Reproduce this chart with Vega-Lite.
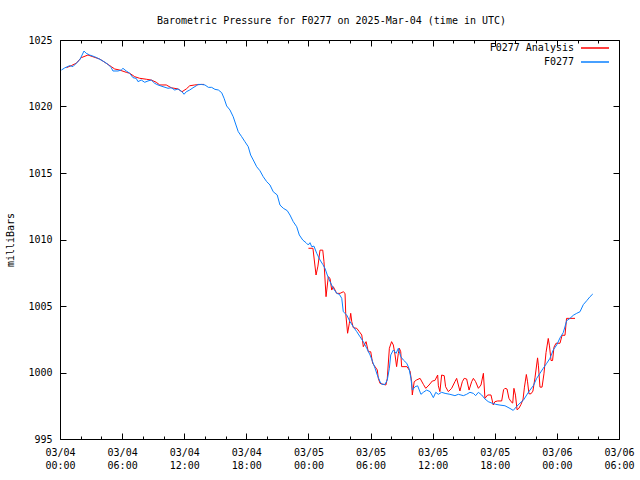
{
 "$schema": "https://vega.github.io/schema/vega-lite/v6.json",
 "width": 559, "height": 399,
 "autosize": "none",
 "padding": {"left": 60, "top": 40, "right": 21, "bottom": 41},
 "background": "white",
 "title": {"text": "Barometric Pressure for F0277 on 2025-Mar-04 (time in UTC)", "font": "DejaVu Sans Mono", "fontSize": 10, "fontWeight": "normal", "anchor": "middle", "dx": -8, "offset": 9, "color": "black"},
 "config": {
  "view": {"stroke": "black", "strokeWidth": 1},
  "axis": {"labelFont": "DejaVu Sans Mono", "labelFontSize": 10, "labelColor": "black", "titleFont": "DejaVu Sans Mono", "titleFontSize": 10, "titleFontWeight": "normal", "titleColor": "black", "domain": false, "grid": false, "tickColor": "black", "tickWidth": 1, "labelBound": false, "labelFlush": false, "labelOverlap": false}
 },
 "datasets": {
  "obs": [
   {"t":"2025-03-04T00:08:00Z","p":1022.74},{"t":"2025-03-04T00:27:00Z","p":1022.9},{"t":"2025-03-04T00:56:00Z","p":1023.07},{"t":"2025-03-04T01:15:00Z","p":1023.0},{"t":"2025-03-04T01:34:00Z","p":1023.25},{"t":"2025-03-04T01:54:00Z","p":1023.5},{"t":"2025-03-04T02:08:00Z","p":1023.87},{"t":"2025-03-04T02:19:00Z","p":1024.17},{"t":"2025-03-04T02:32:00Z","p":1024.0},{"t":"2025-03-04T02:52:00Z","p":1023.87},{"t":"2025-03-04T03:21:00Z","p":1023.74},{"t":"2025-03-04T03:40:00Z","p":1023.62},{"t":"2025-03-04T04:09:00Z","p":1023.42},{"t":"2025-03-04T04:38:00Z","p":1023.17},{"t":"2025-03-04T04:57:00Z","p":1022.92},{"t":"2025-03-04T05:07:00Z","p":1022.67},{"t":"2025-03-04T05:36:00Z","p":1022.67},{"t":"2025-03-04T05:55:00Z","p":1022.74},{"t":"2025-03-04T06:05:00Z","p":1022.87},{"t":"2025-03-04T06:24:00Z","p":1022.67},{"t":"2025-03-04T06:44:00Z","p":1022.5},{"t":"2025-03-04T07:03:00Z","p":1022.17},{"t":"2025-03-04T07:22:00Z","p":1022.11},{"t":"2025-03-04T07:32:00Z","p":1021.87},{"t":"2025-03-04T07:51:00Z","p":1021.99},{"t":"2025-03-04T08:11:00Z","p":1021.82},{"t":"2025-03-04T08:30:00Z","p":1021.92},{"t":"2025-03-04T08:49:00Z","p":1021.99},{"t":"2025-03-04T09:09:00Z","p":1021.74},{"t":"2025-03-04T09:28:00Z","p":1021.62},{"t":"2025-03-04T09:57:00Z","p":1021.49},{"t":"2025-03-04T10:26:00Z","p":1021.37},{"t":"2025-03-04T10:45:00Z","p":1021.41},{"t":"2025-03-04T11:05:00Z","p":1021.24},{"t":"2025-03-04T11:24:00Z","p":1021.32},{"t":"2025-03-04T11:47:00Z","p":1021.11},{"t":"2025-03-04T11:59:00Z","p":1020.92},{"t":"2025-03-04T12:12:00Z","p":1021.11},{"t":"2025-03-04T12:32:00Z","p":1021.24},{"t":"2025-03-04T12:51:00Z","p":1021.41},{"t":"2025-03-04T13:10:00Z","p":1021.56},{"t":"2025-03-04T13:20:00Z","p":1021.66},{"t":"2025-03-04T13:39:00Z","p":1021.66},{"t":"2025-03-04T14:00:00Z","p":1021.62},{"t":"2025-03-04T14:20:00Z","p":1021.44},{"t":"2025-03-04T14:39:00Z","p":1021.44},{"t":"2025-03-04T14:58:00Z","p":1021.29},{"t":"2025-03-04T15:18:00Z","p":1021.24},{"t":"2025-03-04T15:37:00Z","p":1021.04},{"t":"2025-03-04T15:51:00Z","p":1020.62},{"t":"2025-03-04T16:06:00Z","p":1020.04},{"t":"2025-03-04T16:25:00Z","p":1019.74},{"t":"2025-03-04T16:44:00Z","p":1019.23},{"t":"2025-03-04T17:00:00Z","p":1018.61},{"t":"2025-03-04T17:13:00Z","p":1018.11},{"t":"2025-03-04T17:33:00Z","p":1017.73},{"t":"2025-03-04T17:52:00Z","p":1017.35},{"t":"2025-03-04T18:11:00Z","p":1016.98},{"t":"2025-03-04T18:25:00Z","p":1016.35},{"t":"2025-03-04T18:40:00Z","p":1015.98},{"t":"2025-03-04T19:00:00Z","p":1015.47},{"t":"2025-03-04T19:19:00Z","p":1015.17},{"t":"2025-03-04T19:38:00Z","p":1014.72},{"t":"2025-03-04T19:58:00Z","p":1014.35},{"t":"2025-03-04T20:17:00Z","p":1014.1},{"t":"2025-03-04T20:36:00Z","p":1013.59},{"t":"2025-03-04T20:59:00Z","p":1013.35},{"t":"2025-03-04T21:15:00Z","p":1012.59},{"t":"2025-03-04T21:34:00Z","p":1012.35},{"t":"2025-03-04T21:57:00Z","p":1012.17},{"t":"2025-03-04T22:13:00Z","p":1011.84},{"t":"2025-03-04T22:32:00Z","p":1011.34},{"t":"2025-03-04T22:52:00Z","p":1010.96},{"t":"2025-03-04T23:07:00Z","p":1010.34},{"t":"2025-03-04T23:27:00Z","p":1009.96},{"t":"2025-03-04T23:46:00Z","p":1009.76},{"t":"2025-03-04T23:59:00Z","p":1009.59},
   {"t":"2025-03-05T00:09:00Z","p":1009.76},{"t":"2025-03-05T00:19:00Z","p":1009.46},{"t":"2025-03-05T00:32:00Z","p":1009.5},{"t":"2025-03-05T00:48:00Z","p":1008.96},{"t":"2025-03-05T01:07:00Z","p":1008.46},{"t":"2025-03-05T01:23:00Z","p":1008.13},{"t":"2025-03-05T01:36:00Z","p":1007.83},{"t":"2025-03-05T01:49:00Z","p":1007.33},{"t":"2025-03-05T02:05:00Z","p":1006.83},{"t":"2025-03-05T02:24:00Z","p":1006.33},{"t":"2025-03-05T02:44:00Z","p":1005.95},{"t":"2025-03-05T02:59:00Z","p":1005.88},{"t":"2025-03-05T03:13:00Z","p":1005.58},{"t":"2025-03-05T03:22:00Z","p":1004.57},{"t":"2025-03-05T03:42:00Z","p":1004.32},{"t":"2025-03-05T04:01:00Z","p":1003.82},{"t":"2025-03-05T04:20:00Z","p":1003.44},{"t":"2025-03-05T04:40:00Z","p":1003.07},{"t":"2025-03-05T04:59:00Z","p":1002.69},{"t":"2025-03-05T05:18:00Z","p":1002.32},{"t":"2025-03-05T05:38:00Z","p":1001.82},{"t":"2025-03-05T05:57:00Z","p":1001.32},{"t":"2025-03-05T06:12:00Z","p":1000.81},{"t":"2025-03-05T06:26:00Z","p":1000.32},{"t":"2025-03-05T06:39:00Z","p":999.81},{"t":"2025-03-05T06:55:00Z","p":999.31},{"t":"2025-03-05T07:05:00Z","p":999.11},{"t":"2025-03-05T07:24:00Z","p":999.11},{"t":"2025-03-05T07:37:00Z","p":999.44},{"t":"2025-03-05T07:49:00Z","p":1000.32},{"t":"2025-03-05T07:57:00Z","p":1001.32},{"t":"2025-03-05T08:12:00Z","p":1001.69},{"t":"2025-03-05T08:28:00Z","p":1001.44},{"t":"2025-03-05T08:41:00Z","p":1001.82},{"t":"2025-03-05T08:55:00Z","p":1001.19},{"t":"2025-03-05T09:10:00Z","p":1000.94},{"t":"2025-03-05T09:30:00Z","p":1000.69},{"t":"2025-03-05T09:43:00Z","p":1000.3},{"t":"2025-03-05T09:54:00Z","p":999.56},{"t":"2025-03-05T10:02:00Z","p":998.68},{"t":"2025-03-05T10:18:00Z","p":998.93},{"t":"2025-03-05T10:33:00Z","p":999.0},{"t":"2025-03-05T10:52:00Z","p":998.36},{"t":"2025-03-05T11:06:00Z","p":998.51},{"t":"2025-03-05T11:25:00Z","p":998.68},{"t":"2025-03-05T11:45:00Z","p":998.56},{"t":"2025-03-05T12:04:00Z","p":998.11},{"t":"2025-03-05T12:18:00Z","p":998.51},{"t":"2025-03-05T12:33:00Z","p":998.36},{"t":"2025-03-05T12:52:00Z","p":998.51},{"t":"2025-03-05T13:12:00Z","p":998.43},{"t":"2025-03-05T13:40:00Z","p":998.36},{"t":"2025-03-05T14:09:00Z","p":998.26},{"t":"2025-03-05T14:29:00Z","p":998.36},{"t":"2025-03-05T14:58:00Z","p":998.26},{"t":"2025-03-05T15:17:00Z","p":998.36},{"t":"2025-03-05T15:36:00Z","p":998.51},{"t":"2025-03-05T15:56:00Z","p":998.43},{"t":"2025-03-05T16:09:00Z","p":998.26},{"t":"2025-03-05T16:25:00Z","p":998.51},{"t":"2025-03-05T16:44:00Z","p":998.31},{"t":"2025-03-05T17:03:00Z","p":998.01},{"t":"2025-03-05T17:22:00Z","p":997.81},{"t":"2025-03-05T17:46:00Z","p":997.68},{"t":"2025-03-05T18:05:00Z","p":997.61},{"t":"2025-03-05T18:30:00Z","p":997.55},{"t":"2025-03-05T18:59:00Z","p":997.5},{"t":"2025-03-05T19:28:00Z","p":997.3},{"t":"2025-03-05T19:47:00Z","p":997.15},{"t":"2025-03-05T20:07:00Z","p":997.45},{"t":"2025-03-05T20:26:00Z","p":997.7},{"t":"2025-03-05T20:45:00Z","p":997.9},{"t":"2025-03-05T21:05:00Z","p":998.31},{"t":"2025-03-05T21:24:00Z","p":998.68},{"t":"2025-03-05T21:43:00Z","p":999.0},{"t":"2025-03-05T22:03:00Z","p":999.56},{"t":"2025-03-05T22:22:00Z","p":999.94},{"t":"2025-03-05T22:41:00Z","p":1000.32},{"t":"2025-03-05T23:01:00Z","p":1000.69},{"t":"2025-03-05T23:20:00Z","p":1001.07},{"t":"2025-03-05T23:39:00Z","p":1001.7},{"t":"2025-03-05T23:59:00Z","p":1002.07},
   {"t":"2025-03-06T00:18:00Z","p":1002.6},{"t":"2025-03-06T00:37:00Z","p":1003.0},{"t":"2025-03-06T00:57:00Z","p":1003.9},{"t":"2025-03-06T01:16:00Z","p":1004.07},{"t":"2025-03-06T01:35:00Z","p":1004.3},{"t":"2025-03-06T01:55:00Z","p":1004.45},{"t":"2025-03-06T02:14:00Z","p":1004.57},{"t":"2025-03-06T02:33:00Z","p":1005.1},{"t":"2025-03-06T02:53:00Z","p":1005.4},{"t":"2025-03-06T03:12:00Z","p":1005.7},{"t":"2025-03-06T03:28:00Z","p":1005.9}
  ],
  "analysis": [
   {"t":"2025-03-04T00:37:00Z","g":1,"p":1022.92},{"t":"2025-03-04T01:05:00Z","g":1,"p":1023.07},{"t":"2025-03-04T01:34:00Z","g":1,"p":1023.25},{"t":"2025-03-04T02:03:00Z","g":1,"p":1023.67},{"t":"2025-03-04T02:42:00Z","g":1,"p":1023.87},{"t":"2025-03-04T03:11:00Z","g":1,"p":1023.74},{"t":"2025-03-04T03:50:00Z","g":1,"p":1023.57},{"t":"2025-03-04T04:28:00Z","g":1,"p":1023.25},{"t":"2025-03-04T04:57:00Z","g":1,"p":1023.0},{"t":"2025-03-04T05:17:00Z","g":1,"p":1022.82},{"t":"2025-03-04T05:46:00Z","g":1,"p":1022.74},{"t":"2025-03-04T06:24:00Z","g":1,"p":1022.57},{"t":"2025-03-04T06:44:00Z","g":1,"p":1022.5},{"t":"2025-03-04T07:13:00Z","g":1,"p":1022.24},{"t":"2025-03-04T07:42:00Z","g":1,"p":1022.12},{"t":"2025-03-04T08:20:00Z","g":1,"p":1022.05},{"t":"2025-03-04T08:49:00Z","g":1,"p":1021.99},{"t":"2025-03-04T09:18:00Z","g":1,"p":1021.82},{"t":"2025-03-04T09:38:00Z","g":1,"p":1021.62},{"t":"2025-03-04T10:16:00Z","g":1,"p":1021.62},{"t":"2025-03-04T10:45:00Z","g":1,"p":1021.41},{"t":"2025-03-04T11:24:00Z","g":1,"p":1021.32},{"t":"2025-03-04T11:47:00Z","g":1,"p":1021.11},{"t":"2025-03-04T12:12:00Z","g":1,"p":1021.32},{"t":"2025-03-04T12:32:00Z","g":1,"p":1021.56},{"t":"2025-03-04T13:01:00Z","g":1,"p":1021.62},{"t":"2025-03-04T13:39:00Z","g":1,"p":1021.66},{"t":"2025-03-04T13:55:00Z","g":1,"p":1021.66},
   {"t":"2025-03-05T00:00:00Z","g":2,"p":1009.34},{"t":"2025-03-05T00:26:00Z","g":2,"p":1009.34},{"t":"2025-03-05T00:44:00Z","g":2,"p":1007.33},{"t":"2025-03-05T00:55:00Z","g":2,"p":1008.0},{"t":"2025-03-05T01:07:00Z","g":2,"p":1009.2},{"t":"2025-03-05T01:23:00Z","g":2,"p":1009.2},{"t":"2025-03-05T01:30:00Z","g":2,"p":1008.33},{"t":"2025-03-05T01:42:00Z","g":2,"p":1005.7},{"t":"2025-03-05T01:55:00Z","g":2,"p":1007.2},{"t":"2025-03-05T02:05:00Z","g":2,"p":1007.08},{"t":"2025-03-05T02:15:00Z","g":2,"p":1006.2},{"t":"2025-03-05T02:24:00Z","g":2,"p":1006.45},{"t":"2025-03-05T02:44:00Z","g":2,"p":1005.95},{"t":"2025-03-05T03:03:00Z","g":2,"p":1005.95},{"t":"2025-03-05T03:22:00Z","g":2,"p":1006.07},{"t":"2025-03-05T03:32:00Z","g":2,"p":1005.95},{"t":"2025-03-05T03:36:00Z","g":2,"p":1004.45},{"t":"2025-03-05T03:47:00Z","g":2,"p":1002.95},{"t":"2025-03-05T03:57:00Z","g":2,"p":1003.7},{"t":"2025-03-05T04:05:00Z","g":2,"p":1004.45},{"t":"2025-03-05T04:11:00Z","g":2,"p":1003.82},{"t":"2025-03-05T04:20:00Z","g":2,"p":1003.37},{"t":"2025-03-05T04:40:00Z","g":2,"p":1003.32},{"t":"2025-03-05T04:55:00Z","g":2,"p":1003.07},{"t":"2025-03-05T05:09:00Z","g":2,"p":1002.82},{"t":"2025-03-05T05:18:00Z","g":2,"p":1001.94},{"t":"2025-03-05T05:34:00Z","g":2,"p":1002.32},{"t":"2025-03-05T05:47:00Z","g":2,"p":1001.56},{"t":"2025-03-05T06:01:00Z","g":2,"p":1001.56},{"t":"2025-03-05T06:12:00Z","g":2,"p":1000.69},{"t":"2025-03-05T06:26:00Z","g":2,"p":1000.44},{"t":"2025-03-05T06:39:00Z","g":2,"p":1000.19},{"t":"2025-03-05T06:45:00Z","g":2,"p":999.56},{"t":"2025-03-05T06:55:00Z","g":2,"p":999.18},{"t":"2025-03-05T07:29:00Z","g":2,"p":999.06},{"t":"2025-03-05T07:37:00Z","g":2,"p":999.56},{"t":"2025-03-05T07:49:00Z","g":2,"p":1001.82},{"t":"2025-03-05T08:02:00Z","g":2,"p":1002.32},{"t":"2025-03-05T08:12:00Z","g":2,"p":1002.07},{"t":"2025-03-05T08:22:00Z","g":2,"p":1001.32},{"t":"2025-03-05T08:31:00Z","g":2,"p":1000.44},{"t":"2025-03-05T08:41:00Z","g":2,"p":1001.44},{"t":"2025-03-05T08:47:00Z","g":2,"p":1001.82},{"t":"2025-03-05T08:55:00Z","g":2,"p":1001.56},{"t":"2025-03-05T09:00:00Z","g":2,"p":1000.44},{"t":"2025-03-05T09:31:00Z","g":2,"p":1000.44},{"t":"2025-03-05T09:49:00Z","g":2,"p":1000.1},{"t":"2025-03-05T09:58:00Z","g":2,"p":999.31},{"t":"2025-03-05T10:02:00Z","g":2,"p":998.31},{"t":"2025-03-05T10:13:00Z","g":2,"p":999.31},{"t":"2025-03-05T10:27:00Z","g":2,"p":999.44},{"t":"2025-03-05T10:47:00Z","g":2,"p":999.56},{"t":"2025-03-05T11:06:00Z","g":2,"p":999.11},{"t":"2025-03-05T11:20:00Z","g":2,"p":998.81},{"t":"2025-03-05T11:39:00Z","g":2,"p":999.06},{"t":"2025-03-05T11:58:00Z","g":2,"p":999.36},{"t":"2025-03-05T12:13:00Z","g":2,"p":999.4},{"t":"2025-03-05T12:29:00Z","g":2,"p":999.81},{"t":"2025-03-05T12:33:00Z","g":2,"p":999.0},{"t":"2025-03-05T12:42:00Z","g":2,"p":998.56},{"t":"2025-03-05T12:52:00Z","g":2,"p":999.81},{"t":"2025-03-05T13:07:00Z","g":2,"p":999.76},{"t":"2025-03-05T13:15:00Z","g":2,"p":998.93},{"t":"2025-03-05T13:31:00Z","g":2,"p":998.56},{"t":"2025-03-05T13:50:00Z","g":2,"p":998.81},{"t":"2025-03-05T14:09:00Z","g":2,"p":999.31},{"t":"2025-03-05T14:19:00Z","g":2,"p":999.56},{"t":"2025-03-05T14:29:00Z","g":2,"p":999.06},{"t":"2025-03-05T14:38:00Z","g":2,"p":998.61},{"t":"2025-03-05T14:52:00Z","g":2,"p":999.31},{"t":"2025-03-05T15:03:00Z","g":2,"p":999.56},{"t":"2025-03-05T15:17:00Z","g":2,"p":999.51},{"t":"2025-03-05T15:31:00Z","g":2,"p":998.68},{"t":"2025-03-05T15:46:00Z","g":2,"p":999.31},{"t":"2025-03-05T15:56:00Z","g":2,"p":999.56},{"t":"2025-03-05T16:09:00Z","g":2,"p":999.31},{"t":"2025-03-05T16:25:00Z","g":2,"p":998.81},{"t":"2025-03-05T16:40:00Z","g":2,"p":999.06},{"t":"2025-03-05T16:54:00Z","g":2,"p":999.94},{"t":"2025-03-05T17:03:00Z","g":2,"p":998.06},{"t":"2025-03-05T17:19:00Z","g":2,"p":998.31},{"t":"2025-03-05T17:38:00Z","g":2,"p":998.31},{"t":"2025-03-05T17:51:00Z","g":2,"p":997.56},{"t":"2025-03-05T18:01:00Z","g":2,"p":997.81},{"t":"2025-03-05T18:17:00Z","g":2,"p":997.86},{"t":"2025-03-05T18:40:00Z","g":2,"p":997.86},{"t":"2025-03-05T18:51:00Z","g":2,"p":998.7},{"t":"2025-03-05T18:59:00Z","g":2,"p":998.81},{"t":"2025-03-05T19:11:00Z","g":2,"p":998.76},{"t":"2025-03-05T19:22:00Z","g":2,"p":998.06},{"t":"2025-03-05T19:34:00Z","g":2,"p":997.81},{"t":"2025-03-05T19:44:00Z","g":2,"p":997.7},{"t":"2025-03-05T19:51:00Z","g":2,"p":998.81},{"t":"2025-03-05T20:00:00Z","g":2,"p":998.3},{"t":"2025-03-05T20:09:00Z","g":2,"p":997.2},{"t":"2025-03-05T20:20:00Z","g":2,"p":997.31},{"t":"2025-03-05T20:32:00Z","g":2,"p":997.6},{"t":"2025-03-05T20:44:00Z","g":2,"p":998.0},{"t":"2025-03-05T20:52:00Z","g":2,"p":998.9},{"t":"2025-03-05T21:03:00Z","g":2,"p":999.85},{"t":"2025-03-05T21:10:00Z","g":2,"p":999.3},{"t":"2025-03-05T21:18:00Z","g":2,"p":998.4},{"t":"2025-03-05T21:30:00Z","g":2,"p":998.4},{"t":"2025-03-05T21:41:00Z","g":2,"p":998.6},{"t":"2025-03-05T21:53:00Z","g":2,"p":999.6},{"t":"2025-03-05T22:08:00Z","g":2,"p":1001.1},{"t":"2025-03-05T22:13:00Z","g":2,"p":1000.5},{"t":"2025-03-05T22:22:00Z","g":2,"p":998.9},{"t":"2025-03-05T22:34:00Z","g":2,"p":998.9},{"t":"2025-03-05T22:45:00Z","g":2,"p":999.9},{"t":"2025-03-05T22:57:00Z","g":2,"p":1001.5},{"t":"2025-03-05T23:10:00Z","g":2,"p":1002.56},{"t":"2025-03-05T23:17:00Z","g":2,"p":1002.0},{"t":"2025-03-05T23:26:00Z","g":2,"p":1000.9},{"t":"2025-03-05T23:35:00Z","g":2,"p":1000.9},{"t":"2025-03-05T23:43:00Z","g":2,"p":1001.9},{"t":"2025-03-05T23:55:00Z","g":2,"p":1002.2},{"t":"2025-03-06T00:18:00Z","g":2,"p":1002.2},{"t":"2025-03-06T00:30:00Z","g":2,"p":1002.8},{"t":"2025-03-06T00:47:00Z","g":2,"p":1002.8},{"t":"2025-03-06T00:56:00Z","g":2,"p":1004.07},{"t":"2025-03-06T01:45:00Z","g":2,"p":1004.07}
  ]
 },
 "layer": [
  {
   "data": {"name": "analysis"},
   "mark": {"type": "line", "strokeWidth": 1, "clip": true},
   "encoding": {
    "x": {"field": "t", "type": "temporal",
      "scale": {"type": "utc", "domain": [1741046400000, 1741240800000], "nice": false},
      "axis": {"orient": "bottom", "title": null,
        "values": [1741046400000,1741053600000,1741060800000,1741068000000,1741075200000,1741082400000,1741089600000,1741096800000,1741104000000,1741111200000,1741118400000,1741125600000,1741132800000,1741140000000,1741147200000,1741154400000,1741161600000,1741168800000,1741176000000,1741183200000,1741190400000,1741197600000,1741204800000,1741212000000,1741219200000,1741226400000,1741233600000,1741240800000],
        "tickCount": 40,
        "tickSize": {"condition": {"test": "utchours(datum.value) % 6 == 0", "value": -6}, "value": -3},
        "labelPadding": 14,
        "labelExpr": "utchours(datum.value) % 6 == 0 ? [utcFormat(datum.value, '%m/%d'), utcFormat(datum.value, '%H:%M')] : ''",
        "labelLineHeight": 13}},
    "y": {"field": "p", "type": "quantitative",
      "scale": {"domain": [995, 1025], "nice": false, "zero": false},
      "axis": {"orient": "left", "values": [995, 1000, 1005, 1010, 1015, 1020, 1025], "format": "d", "tickSize": -6, "labelPadding": 14, "title": "milliBars", "titlePadding": 12}},
    "color": {"datum": "F0277 Analysis",
      "scale": {"domain": ["F0277 Analysis", "F0277"], "range": ["#ff0000", "#0a80ff"]},
      "legend": {"title": null, "orient": "none", "legendX": 530, "legendY": 3, "symbolType": "M-3.3,0H3.3", "symbolSize": 72, "symbolStrokeWidth": 1.5, "labelAlign": "right", "labelOffset": -26, "labelFont": "DejaVu Sans Mono", "labelFontSize": 10, "labelColor": "black", "rowPadding": 4, "padding": 0}},
    "detail": {"field": "g"}
   }
  },
  {
   "data": {"name": "obs"},
   "mark": {"type": "line", "strokeWidth": 1, "clip": true},
   "encoding": {
    "x": {"field": "t", "type": "temporal",
      "axis": {"orient": "top", "title": null, "labels": false,
        "values": [1741046400000,1741053600000,1741060800000,1741068000000,1741075200000,1741082400000,1741089600000,1741096800000,1741104000000,1741111200000,1741118400000,1741125600000,1741132800000,1741140000000,1741147200000,1741154400000,1741161600000,1741168800000,1741176000000,1741183200000,1741190400000,1741197600000,1741204800000,1741212000000,1741219200000,1741226400000,1741233600000,1741240800000],
        "tickCount": 40,
        "tickSize": {"condition": {"test": "utchours(datum.value) % 6 == 0", "value": -6}, "value": -3}}},
    "y": {"field": "p", "type": "quantitative",
      "axis": {"orient": "right", "title": null, "labels": false, "values": [995, 1000, 1005, 1010, 1015, 1020, 1025], "tickSize": -6}},
    "color": {"datum": "F0277"}
   }
  }
 ],
 "resolve": {"axis": {"x": "independent", "y": "independent"}}
}
